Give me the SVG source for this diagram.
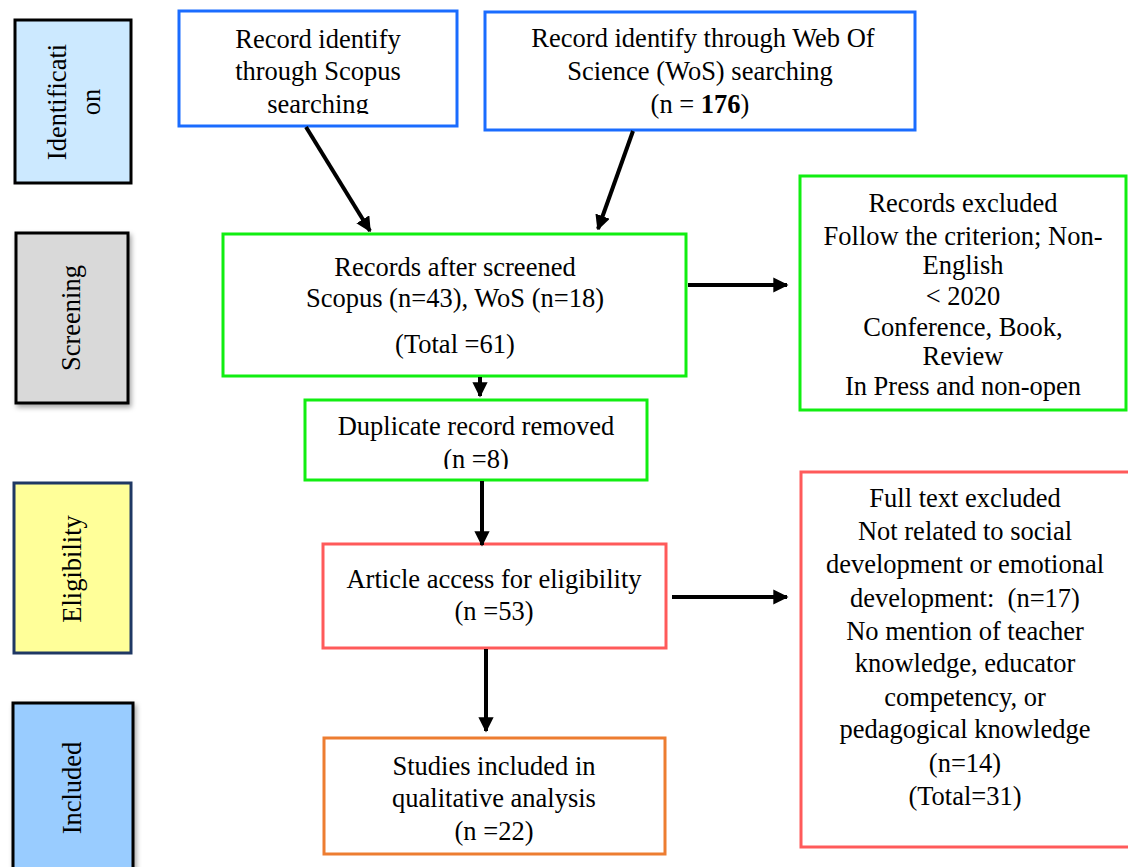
<svg xmlns="http://www.w3.org/2000/svg" width="1128" height="867" viewBox="0 0 1128 867">
<style>
text{font-family:"Liberation Serif","Times New Roman",serif;font-size:26.5px;fill:#000;text-anchor:middle}
.stage{stroke-width:3}
.box{fill:#fff;stroke-width:3}
.blue{stroke:#1a6cff}
.green{stroke:#11ee11}
.red{stroke:#ff5a5a}
.orange{stroke:#ed7d31}
.conn{stroke:#000;stroke-width:4;fill:none;marker-end:url(#ah)}
</style>
<defs>
<marker id="ah" viewBox="0 0 10 10" refX="9" refY="5" markerWidth="3.8" markerHeight="3.8" orient="auto" markerUnits="strokeWidth">
<path d="M0,0 L10,5 L0,10 z" fill="#000"/>
</marker>
<filter id="sh" x="-20%" y="-20%" width="150%" height="150%">
<feDropShadow dx="2" dy="3" stdDeviation="2.5" flood-color="#000" flood-opacity="0.35"/>
</filter>
<clipPath id="c1"><rect x="179" y="10" width="280" height="104"/></clipPath>
<clipPath id="c2"><rect x="305" y="400" width="344" height="69"/></clipPath>
</defs>

<g id="stage-identification">
<rect class="stage" x="15" y="20" width="116" height="163" fill="#cce9ff" stroke="#000"/>
<text transform="translate(66,102) rotate(-90)">Identificati</text>
<text transform="translate(100,102) rotate(-90)">on</text>
</g>
<g id="stage-screening">
<rect class="stage" x="16" y="233" width="112" height="170" fill="#d9d9d9" stroke="#000" filter="url(#sh)"/>
<text transform="translate(80,318) rotate(-90)">Screening</text>
</g>
<g id="stage-eligibility">
<rect class="stage" x="14" y="483" width="117" height="170" fill="#ffff99" stroke="#1f3864"/>
<text transform="translate(81,569) rotate(-90)">Eligibility</text>
</g>
<g id="stage-included">
<rect class="stage" x="13" y="703" width="120" height="175" fill="#99ccff" stroke="#000" filter="url(#sh)"/>
<text transform="translate(81,788) rotate(-90)">Included</text>
</g>

<g id="scopus">
<rect class="box blue" x="179" y="11" width="278" height="115"/>
<g clip-path="url(#c1)">
<text x="318" y="48">Record identify</text>
<text x="318" y="80">through Scopus</text>
<text x="318" y="113">searching</text>
</g>
</g>
<g id="wos">
<rect class="box blue" x="485" y="12" width="430" height="118"/>
<text x="703" y="47">Record identify through Web Of</text>
<text x="700" y="80">Science (WoS) searching</text>
<text x="700" y="113">(n = <tspan font-weight="bold">176</tspan>)</text>
</g>
<g id="screened">
<rect class="box green" x="223" y="234" width="463" height="142"/>
<text x="455" y="276">Records after screened</text>
<text x="455" y="307">Scopus (n=43), WoS (n=18)</text>
<text x="455" y="353">(Total =61)</text>
</g>
<g id="records-excluded">
<rect class="box green" x="800" y="176" width="326" height="234"/>
<text x="963" y="212">Records excluded</text>
<text x="963" y="245">Follow the criterion; Non-</text>
<text x="963" y="274">English</text>
<text x="963" y="305">&lt; 2020</text>
<text x="963" y="336">Conference, Book,</text>
<text x="963" y="365">Review</text>
<text x="963" y="395">In Press and non-open</text>
</g>
<g id="duplicate">
<rect class="box green" x="305" y="400" width="342" height="80"/>
<g clip-path="url(#c2)">
<text x="476" y="435">Duplicate record removed</text>
<text x="476" y="468">(n =8)</text>
</g>
</g>
<g id="eligibility">
<rect class="box red" x="323" y="544" width="343" height="104"/>
<text x="494" y="588">Article access for eligibility</text>
<text x="494" y="620">(n =53)</text>
</g>
<g id="fulltext-excluded">
<rect class="box red" x="801" y="472" width="340" height="375"/>
<text x="965" y="507">Full text excluded</text>
<text x="965" y="540">Not related to social</text>
<text x="965" y="573">development or emotional</text>
<text x="965" y="607">development:&#160; (n=17)</text>
<text x="965" y="640">No mention of teacher</text>
<text x="965" y="672">knowledge, educator</text>
<text x="965" y="706">competency, or</text>
<text x="965" y="738">pedagogical knowledge</text>
<text x="965" y="772">(n=14)</text>
<text x="965" y="805">(Total=31)</text>
</g>
<g id="included">
<rect class="box orange" x="324" y="738" width="341" height="116"/>
<text x="494" y="775">Studies included in</text>
<text x="494" y="807">qualitative analysis</text>
<text x="494" y="840">(n =22)</text>
</g>

<g id="connectors">
<line class="conn" x1="306" y1="127" x2="370" y2="231"/>
<line class="conn" x1="633" y1="131" x2="598" y2="229"/>
<line class="conn" x1="688" y1="285" x2="787" y2="285"/>
<line class="conn" x1="480" y1="377" x2="480" y2="396"/>
<line class="conn" x1="482" y1="481" x2="482" y2="545"/>
<line class="conn" x1="672" y1="597" x2="787" y2="597"/>
<line class="conn" x1="486" y1="649" x2="486" y2="731"/>
</g>
</svg>
